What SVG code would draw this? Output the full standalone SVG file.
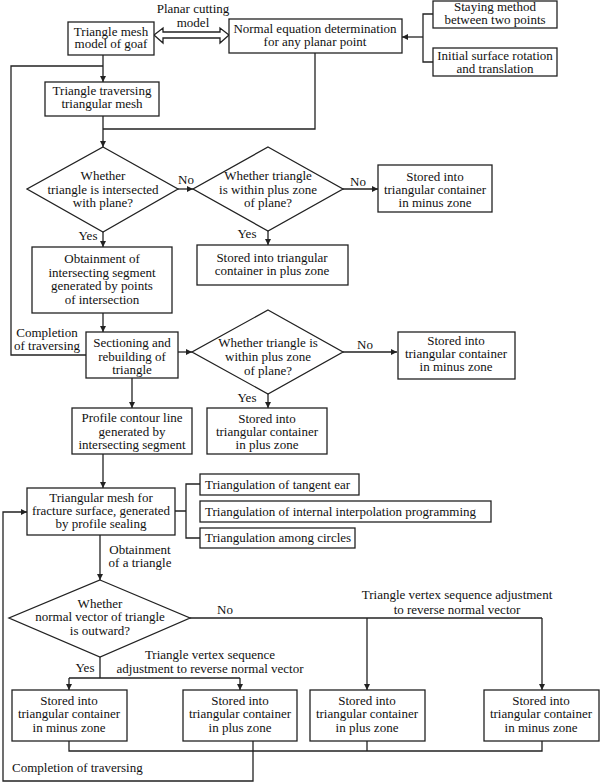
<svg xmlns="http://www.w3.org/2000/svg" width="600" height="782" viewBox="0 0 600 782">
<defs>
<marker id="ah" viewBox="0 0 10 10" refX="10" refY="5" markerWidth="7" markerHeight="6" markerUnits="userSpaceOnUse" orient="auto">
<path d="M0,0 L10,5 L0,10 Z" fill="#222"/>
</marker>
<style>
.b{fill:#fff;stroke:#222;stroke-width:1.3}
.l{fill:none;stroke:#222;stroke-width:1.3}
.a{fill:none;stroke:#222;stroke-width:1.3;marker-end:url(#ah)}
text{font-family:"Liberation Serif","Times New Roman",serif;font-size:13px;fill:#111}
.m{text-anchor:middle}
</style>
</defs>
<rect width="600" height="782" fill="#fff"/>
<g id="connectors">
<path class="l" d="M154,35 L163,28 L163,32 L220,32 L220,28 L229,35 L220,43 L220,38 L163,38 L163,43 Z"/>
<path class="l" d="M433,14 H423 V62 H433"/>
<path class="a" d="M423,37 H402"/>
<path class="a" d="M103,55 V82"/>
<path class="a" d="M103,116 V147"/>
<path class="l" d="M315,53 V129 H103"/>
<path class="a" d="M178,189 H193"/>
<path class="a" d="M343,189 H378"/>
<path class="a" d="M103,232 V247"/>
<path class="a" d="M268,231 V245"/>
<path class="a" d="M103,313 V332"/>
<path class="l" d="M86,355 H11 V66 H103"/>
<path class="a" d="M178,352 H192"/>
<path class="a" d="M343,352 H397"/>
<path class="a" d="M268,394 V408"/>
<path class="a" d="M132,378 V408"/>
<path class="a" d="M103,454 V488"/>
<path class="l" d="M175,511 H186 M200,484 H186 V538 H200"/>
<path class="a" d="M100,535 V580"/>
<path class="l" d="M190,618 H542"/>
<path class="a" d="M542,618 V690"/>
<path class="a" d="M367,618 V690"/>
<path class="l" d="M100,657 V678 M69,678 H240"/>
<path class="a" d="M69,678 V690"/>
<path class="a" d="M240,678 V690"/>
<path class="l" d="M69,741 V751 H542 V741 M367,741 V751"/>
<path class="a" d="M253,741 V781 H3 V512 H27"/>
</g>
<g id="label-planar"><text class="m" x="193" y="13">Planar  cutting</text><text class="m" x="193" y="27">model</text></g>
<g id="n-mesh"><rect class="b" x="68" y="22" width="86" height="33"/><text class="m" x="111" y="36">Triangle mesh</text><text class="m" x="111" y="48">model of goaf</text></g>
<g id="n-normal"><rect class="b" x="229" y="19" width="173" height="34"/><text class="m" x="315" y="33">Normal equation determination</text><text class="m" x="315" y="46">for any planar point</text></g>
<g id="n-staying"><rect class="b" x="433" y="1" width="124" height="27"/><text class="m" x="495" y="11">Staying method</text><text class="m" x="495" y="24">between two points</text></g>
<g id="n-initial"><rect class="b" x="433" y="48" width="124" height="28"/><text class="m" x="495" y="60">Initial surface rotation</text><text class="m" x="495" y="73">and translation</text></g>
<g id="n-traverse"><rect class="b" x="45" y="82" width="114" height="34"/><text class="m" x="102" y="95">Triangle traversing</text><text class="m" x="102" y="108">triangular mesh</text></g>
<g id="d1"><path class="b" d="M103,147 L178,189 L103,232 L27,189 Z"/><text class="m" x="103" y="180">Whether</text><text class="m" x="103" y="194">triangle is intersected</text><text class="m" x="103" y="207">with plane?</text></g>
<g id="d2"><path class="b" d="M268,147 L343,189 L268,231 L193,189 Z"/><text class="m" x="268" y="180">Whether triangle</text><text class="m" x="268" y="194">is within plus zone</text><text class="m" x="268" y="207">of plane?</text></g>
<g id="n-minus1"><rect class="b" x="378" y="165" width="114" height="47"/><text class="m" x="435" y="181">Stored into</text><text class="m" x="435" y="194">triangular container</text><text class="m" x="435" y="207">in minus zone</text></g>
<g id="n-plus1"><rect class="b" x="197" y="245" width="151" height="40"/><text class="m" x="272" y="262">Stored into triangular</text><text class="m" x="272" y="275">container in plus zone</text></g>
<g id="n-obtain"><rect class="b" x="32" y="247" width="140" height="66"/><text class="m" x="102" y="263">Obtainment of</text><text class="m" x="102" y="277">intersecting segment</text><text class="m" x="102" y="290">generated by points</text><text class="m" x="102" y="304">of intersection</text></g>
<g id="label-compl1"><text class="m" x="47" y="337">Completion</text><text class="m" x="47" y="350">of traversing</text></g>
<g id="n-section"><rect class="b" x="86" y="332" width="92" height="46"/><text class="m" x="132" y="347">Sectioning and</text><text class="m" x="132" y="361">rebuilding of</text><text class="m" x="132" y="374">triangle</text></g>
<g id="d3"><path class="b" d="M268,310 L343,352 L268,394 L192,352 Z"/><text class="m" x="268" y="347">Whether triangle is</text><text class="m" x="268" y="361">within plus zone</text><text class="m" x="268" y="375">of plane?</text></g>
<g id="n-minus2"><rect class="b" x="398" y="332" width="117" height="47"/><text class="m" x="456" y="345">Stored into</text><text class="m" x="456" y="358">triangular container</text><text class="m" x="456" y="371">in minus zone</text></g>
<g id="n-plus2"><rect class="b" x="207" y="408" width="120" height="46"/><text class="m" x="267" y="423">Stored into</text><text class="m" x="267" y="436">triangular container</text><text class="m" x="267" y="449">in plus zone</text></g>
<g id="n-profile"><rect class="b" x="72" y="408" width="120" height="46"/><text class="m" x="132" y="422">Profile contour line</text><text class="m" x="132" y="436">generated by</text><text class="m" x="132" y="449">intersecting segment</text></g>
<g id="n-fracture"><rect class="b" x="27" y="488" width="148" height="47"/><text class="m" x="101" y="502">Triangular mesh for</text><text class="m" x="101" y="515">fracture surface, generated</text><text class="m" x="101" y="528">by profile sealing</text></g>
<g id="n-tri1"><rect class="b" x="200" y="474" width="159" height="21"/><text x="205" y="489">Triangulation of tangent ear</text></g>
<g id="n-tri2"><rect class="b" x="200" y="501" width="291" height="21"/><text x="205" y="516">Triangulation of internal interpolation programming</text></g>
<g id="n-tri3"><rect class="b" x="200" y="528" width="155" height="20"/><text x="205" y="542">Triangulation among circles</text></g>
<g id="label-obtain"><text class="m" x="140" y="554">Obtainment</text><text class="m" x="140" y="567">of a triangle</text></g>
<g id="d4"><path class="b" d="M100,580 L190,618 L100,657 L9,618 Z"/><text class="m" x="100" y="608">Whether</text><text class="m" x="100" y="621">normal vector of triangle</text><text class="m" x="100" y="635">is outward?</text></g>
<g id="labels">
<text class="m" x="186" y="184">No</text>
<text class="m" x="358" y="186">No</text>
<text class="m" x="365" y="349">No</text>
<text class="m" x="88" y="240">Yes</text>
<text class="m" x="247" y="238">Yes</text>
<text class="m" x="247" y="402">Yes</text>
<text class="m" x="225" y="614">No</text>
<text class="m" x="457" y="599">Triangle vertex sequence adjustment</text>
<text class="m" x="457" y="614">to reverse normal vector</text>
<text class="m" x="210" y="659">Triangle vertex sequence</text>
<text class="m" x="210" y="673">adjustment to reverse normal vector</text>
<text class="m" x="85" y="672">Yes</text>
<text x="12" y="772">Completion  of traversing</text>
</g>
<g id="n-l1"><rect class="b" x="12" y="690" width="115" height="51"/><text class="m" x="69" y="705">Stored into</text><text class="m" x="69" y="718">triangular container</text><text class="m" x="69" y="732">in minus zone</text></g>
<g id="n-l2"><rect class="b" x="183" y="690" width="114" height="51"/><text class="m" x="240" y="705">Stored into</text><text class="m" x="240" y="718">triangular container</text><text class="m" x="240" y="732">in plus zone</text></g>
<g id="n-l3"><rect class="b" x="310" y="690" width="115" height="51"/><text class="m" x="367" y="705">Stored into</text><text class="m" x="367" y="718">triangular container</text><text class="m" x="367" y="732">in plus zone</text></g>
<g id="n-l4"><rect class="b" x="484" y="690" width="115" height="51"/><text class="m" x="541" y="705">Stored into</text><text class="m" x="541" y="718">triangular container</text><text class="m" x="541" y="732">in minus zone</text></g>
</svg>
